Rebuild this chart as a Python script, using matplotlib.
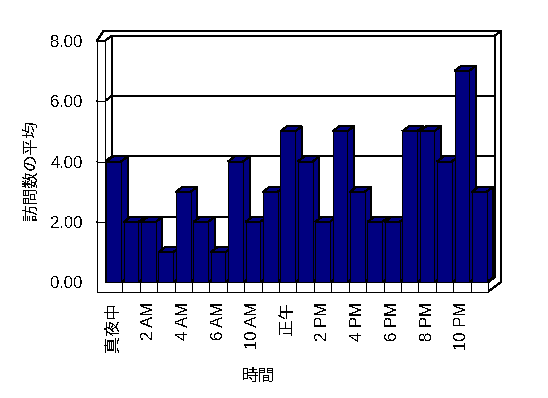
import matplotlib
matplotlib.use("Agg")
import matplotlib.pyplot as plt
from matplotlib.patches import Polygon

plt.rcParams['font.family'] = ['Liberation Sans', 'Noto Sans CJK JP']
plt.rcParams['font.size'] = 12
plt.rcParams['text.antialiased'] = False
plt.rcParams['lines.antialiased'] = False
plt.rcParams['patch.antialiased'] = False

# Average visits per hour (hours 7 and 8 have no data)
hours = ['真夜中', '1 AM', '2 AM', '3 AM', '4 AM', '5 AM', '6 AM', '9 AM',
         '10 AM', '11 AM', '正午', '1 PM', '2 PM', '3 PM', '4 PM', '5 PM',
         '6 PM', '7 PM', '8 PM', '9 PM', '10 PM', '11 PM']
visits = [4, 2, 2, 1, 3, 2, 1, 4, 2, 3, 5, 4, 2, 5, 3, 2, 2, 5, 5, 4, 7, 3]
y_ticks = [0, 2, 4, 6, 8]

navy = '#000080'
lw = 0.72
n = len(visits)
x = list(range(n))
x0, x1 = -0.5, n - 0.5
ymax = y_ticks[-1]

# oblique depth step and slab thicknesses (data units)
dx, dy = 0.385, 0.166
wall_t = 0.45
floor_t = 0.31
bar_w = 0.845

fig = plt.figure(figsize=(5.48, 3.98), dpi=100)
ax = fig.add_axes([104.9 / 548, (398 - 282.3) / 398, (488 - 104.9) / 548, 241.6 / 398])
ax.set_xlim(x0, x1)
ax.set_ylim(0, ymax)
for s in ax.spines.values():
    s.set_visible(False)


def poly(pts, z, fc='white'):
    ax.add_patch(Polygon(pts, closed=True, facecolor=fc, edgecolor='black',
                         linewidth=lw, zorder=z, clip_on=False))


def line(xs, ys, z):
    ax.plot(xs, ys, color='black', linewidth=lw, zorder=z, clip_on=False)


# back wall
poly([(x0 + dx, dy), (x1 + dx, dy), (x1 + dx, ymax + dy), (x0 + dx, ymax + dy)], 1)
# left wall inner face
poly([(x0, 0), (x0 + dx, dy), (x0 + dx, ymax + dy), (x0, ymax)], 1)
# floor top
poly([(x0, 0), (x1, 0), (x1 + dx, dy), (x0 + dx, dy)], 1)
# gridlines
for v in y_ticks[1:-1]:
    line([x0 - wall_t, x0, x0 + dx, x1 + dx], [v, v, v + dy, v + dy], 2)
# right side of back wall and floor
poly([(x1, 0), (x1, -floor_t), (x1 + 2 * dx, -floor_t + 2 * dy), (x1 + 2 * dx, ymax + 2 * dy),
      (x1 + dx, ymax + dy), (x1 + dx, dy)], 3)
# top of walls
poly([(x0 - wall_t, ymax), (x0, ymax), (x0 + dx, ymax + dy), (x1 + dx, ymax + dy),
      (x1 + 2 * dx, ymax + 2 * dy), (x0 - wall_t + dx, ymax + 2 * dy)], 3)
# front L of left wall and floor
poly([(x0 - wall_t, ymax), (x0, ymax), (x0, 0), (x1, 0), (x1, -floor_t),
      (x0 - wall_t, -floor_t)], 3)
for v in y_ticks[1:-1]:
    line([x0 - wall_t, x0], [v, v], 4)
for k in range(n - 1):
    line([k + 0.5, k + 0.5], [0, -floor_t], 4)

# bars
bars = ax.bar(x, visits, width=bar_w, color=navy, edgecolor='black', linewidth=lw)
for i, (b, v) in enumerate(zip(bars, visits)):
    b.set_zorder(10 + i)
    b.set_clip_on(False)
    l, r = i - bar_w / 2, i + bar_w / 2
    poly([(r, 0), (r + dx, dy), (r + dx, v + dy), (r, v)], 9.5 + i, navy)
    poly([(l, v), (r, v), (r + dx, v + dy), (l + dx, v + dy)], 9.5 + i, navy)

ax.set_xticks(x[::2])
ax.set_xticklabels(hours[::2], rotation=90)
ax.set_yticks(y_ticks)
ax.set_yticklabels([f'{v:.2f}' for v in y_ticks])
ax.tick_params(axis='x', length=0, pad=14)
ax.tick_params(axis='y', length=0, pad=16)

fig.text(31 / 548, 1 - 170 / 398, '訪問数の平均', rotation=90, ha='center', va='center')
fig.text(258 / 548, 1 - 376 / 398, '時間', ha='center', va='center')

fig.savefig('out.png', dpi=100)
